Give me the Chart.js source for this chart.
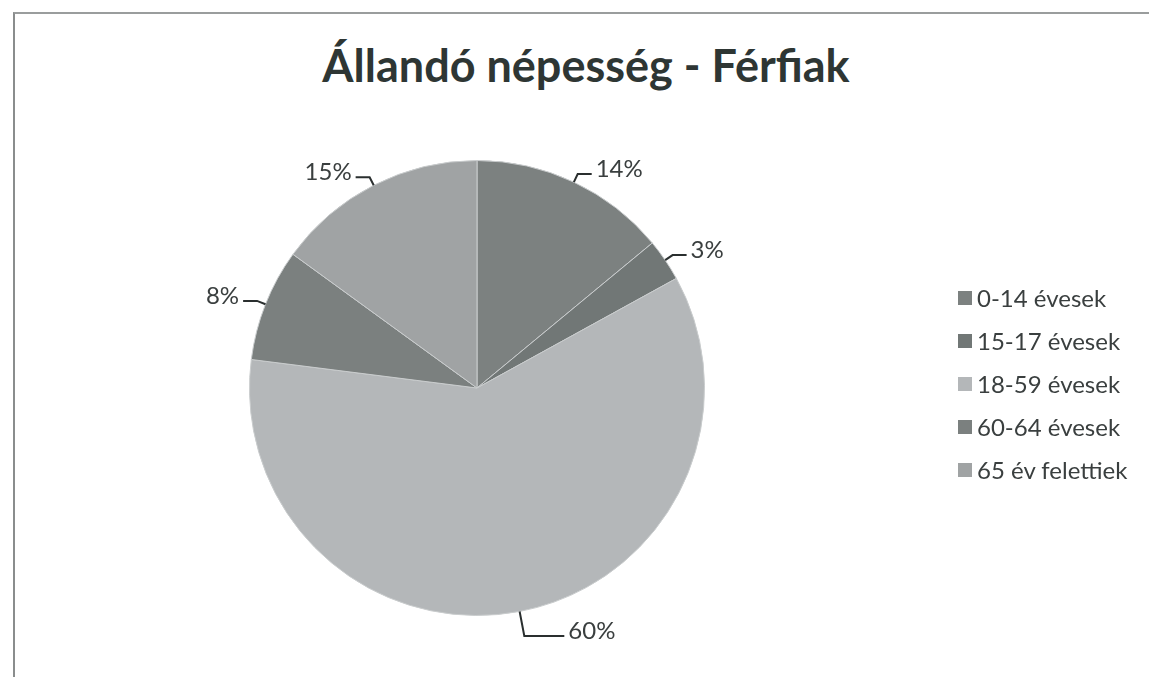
<!DOCTYPE html>
<html>
<head>
<meta charset="utf-8">
<script src="https://cdn.jsdelivr.net/npm/chart.js@4/dist/chart.umd.min.js"></script>
<style>
  html, body { margin: 0; padding: 0; background: #fff; overflow: hidden; }
  body { width: 1149px; height: 677px; position: relative; font-family: Lato, "Open Sans", sans-serif; }
  #frame { position: absolute; left: 13px; top: 12px; width: 1300px; height: 800px; border-left: 2px solid #8a8d8d; border-top: 2px solid #9a9d9d; }
  #title { position: absolute; left: 0; width: 1172px; top: 38px; text-align: center; font-size: 45px; font-weight: bold; color: #2e3634; }
  #chart { position: absolute; left: 0; top: 0; }
  #legend { position: absolute; left: 958px; top: 276px; font-size: 24px; color: #3a3f3f; }
  .item { height: 43px; display: flex; align-items: center; }
  .box { width: 14px; height: 14px; margin-right: 5px; }
</style>
</head>
<body>
<div id="frame"></div>
<div id="title">Állandó népesség - Férfiak</div>
<canvas id="chart" width="1149" height="677"></canvas>
<div id="legend"></div>
<script>
const categories = ['0-14 évesek', '15-17 évesek', '18-59 évesek', '60-64 évesek', '65 év felettiek'];
const shares = [14, 3, 60, 8, 15];
const sliceColors = ['#7c8180', '#717776', '#b4b7b9', '#7b807f', '#a0a3a4'];

// legend
const legend = document.getElementById('legend');
categories.forEach((name, i) => {
    const item = document.createElement('div');
    item.className = 'item';
    item.innerHTML = `<div class="box" style="background:${sliceColors[i]}"></div><span>${name}</span>`;
    legend.appendChild(item);
});

// percentage labels with leader lines, placed from the arc geometry
const leaderLabels = {
    id: 'leaderLabels',
    afterDatasetsDraw(chart) {
        const ctx = chart.ctx;
        const meta = chart.getDatasetMeta(0);
        ctx.save();
        ctx.font = '24px Lato, "Open Sans", sans-serif';
        ctx.fillStyle = '#3a3f3f';
        ctx.strokeStyle = '#2a2f2f';
        ctx.lineWidth = 2;
        ctx.textBaseline = 'middle';
        meta.data.forEach((arc, i) => {
            const p = arc.getProps(['x', 'y', 'startAngle', 'endAngle', 'outerRadius'], true);
            const mid = (p.startAngle + p.endAngle) / 2;
            const cos = Math.cos(mid), sin = Math.sin(mid);
            const x0 = p.x + cos * p.outerRadius;
            const y0 = p.y + sin * p.outerRadius;
            // the big bottom slice gets a longer leader, like the original
            const ext = i === 2 ? 25 : 9;
            const run = i === 2 ? 40 : 14;
            const x1 = p.x + cos * (p.outerRadius + ext);
            const y1 = p.y + sin * (p.outerRadius + ext);
            const right = cos >= 0;
            const x2 = x1 + (right ? run : -run);
            ctx.beginPath();
            ctx.moveTo(x0, y0);
            ctx.lineTo(x1, y1);
            ctx.lineTo(x2, y1);
            ctx.stroke();
            ctx.textAlign = right ? 'left' : 'right';
            ctx.fillText(shares[i] + '%', x2 + (right ? 4 : -4), y1 - 5);
        });
        ctx.restore();
    }
};

new Chart(document.getElementById('chart'), {
    type: 'pie',
    data: {
        labels: categories,
        datasets: [{
            data: shares,
            backgroundColor: sliceColors,
            borderColor: '#c9cccd',
            borderWidth: 1
        }]
    },
    options: {
        responsive: false,
        animation: false,
        layout: { padding: { top: 160, bottom: 61, left: 249, right: 444 } },
        plugins: {
            legend: { display: false },
            tooltip: { enabled: false }
        }
    },
    plugins: [leaderLabels]
});
</script>
</body>
</html>
